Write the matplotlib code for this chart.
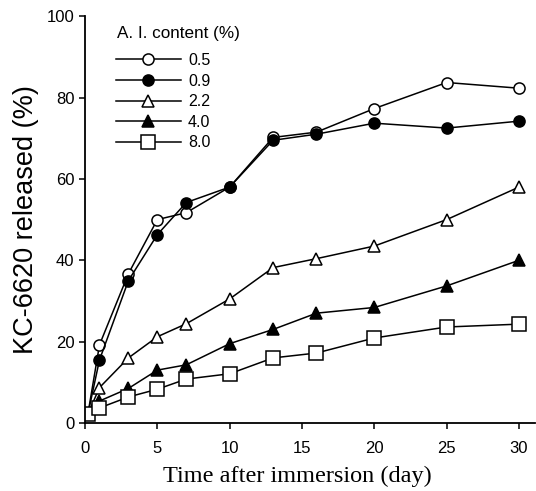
import numpy as np
import matplotlib
matplotlib.use("Agg")
import matplotlib.pyplot as plt

days = [0.2, 1, 3, 5, 7, 10, 13, 16, 20, 25, 30]
labels = ["0.5", "0.9", "2.2", "4.0", "8.0"]
c05 = [2.2, 19.2, 36.7, 50.0, 51.7, 58.0, 70.2, 71.5, 77.3, 83.7, 82.3]
c09 = [2.2, 15.5, 35.0, 46.3, 54.2, 58.0, 69.5, 71.0, 73.7, 72.5, 74.2]
c22 = [2.2, 8.7, 16.0, 21.2, 24.4, 30.5, 38.2, 40.4, 43.5, 50.0, 58.0]
c40 = [2.2, 5.4, 8.5, 13.0, 14.3, 19.5, 23.0, 27.0, 28.4, 33.7, 40.0]
c80 = [2.2, 3.7, 6.4, 8.3, 10.8, 12.1, 16.0, 17.2, 20.9, 23.6, 24.3]

xticks = [0, 5, 10, 15, 20, 25, 30]
yticks = [0, 20, 40, 60, 80, 100]

plt.rcParams['font.family'] = ['Liberation Sans', 'DejaVu Sans']

fig = plt.figure(figsize=(5.36, 4.91), dpi=100)
ax = fig.add_axes([0.1586, 0.1385, 0.8394, 0.8285])

series = [c05, c09, c22, c40, c80]
styles = [
    dict(marker='o', mfc='white', ms=8),
    dict(marker='o', mfc='black', ms=8),
    dict(marker='^', mfc='white', ms=8),
    dict(marker='^', mfc='black', ms=8),
    dict(marker='s', mfc='white', ms=10),
]
for vals, lab, st in zip(series, labels, styles):
    ax.plot(days, vals, color='black', lw=1.1, mec='black', mew=1.1,
            label=lab, **st)

ax.set_xlim(0, 31.1)
ax.set_ylim(0, 100)
ax.set_xticks(xticks)
ax.set_yticks(yticks)
ax.spines['top'].set_visible(False)
ax.spines['right'].set_visible(False)
ax.spines['left'].set_linewidth(1.3)
ax.spines['bottom'].set_linewidth(1.3)
ax.tick_params(axis='both', labelsize=12, width=1.1, length=4)
ax.tick_params(axis='x', pad=9)

ax.set_ylabel("KC-6620 released (%)", fontsize=19.5, labelpad=6)
ax.set_xlabel("Time after immersion (day)", fontsize=17.5,
              family=['Liberation Serif', 'DejaVu Serif'])
ax.xaxis.set_label_coords(0.471, -0.105)

# legend title as plain text, entries below it
ax.text(0.071, 0.958, "A. I. content (%)", transform=ax.transAxes,
        fontsize=12.3, va='center', ha='left')
ax.legend(loc='center left', bbox_to_anchor=(0.037, 0.790), frameon=False,
          fontsize=11.5, handlelength=4.06, handletextpad=0.45,
          labelspacing=0.35)

fig.savefig("out.png", dpi=100)
